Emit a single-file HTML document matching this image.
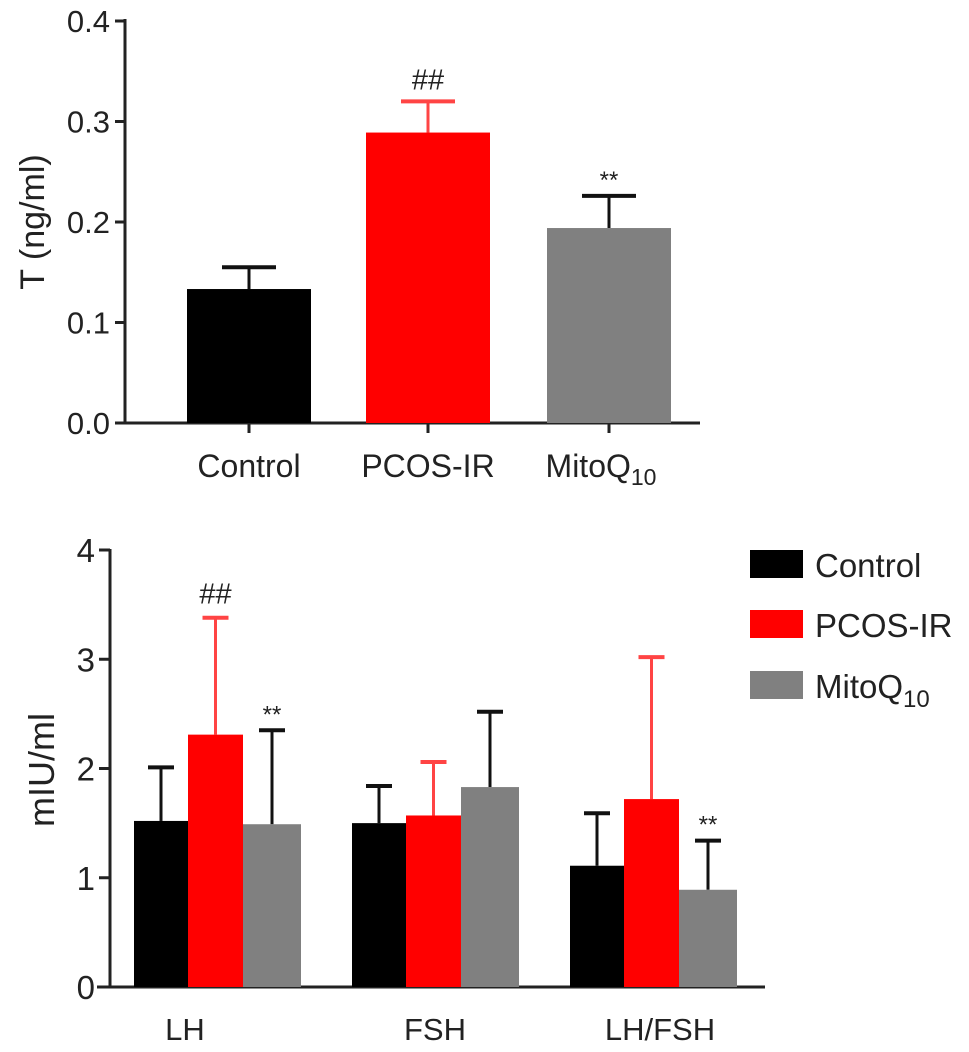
<!DOCTYPE html>
<html><head><meta charset="utf-8"><style>
html,body{margin:0;padding:0;background:#fff;}
svg{display:block;font-family:"Liberation Sans",Arial,sans-serif;}
</style></head><body>
<svg id="fig" width="969" height="1052" viewBox="0 0 969 1052"></svg>
<script>
const topCategories = ["Control","PCOS-IR","MitoQ10"];
const topValues = [0.1333, 0.289, 0.194];
const topErrors = [0.155, 0.320, 0.226];
const topMarks = ["", "##", "**"];
const topTicks = [0.0, 0.1, 0.2, 0.3, 0.4];
const topTickLabels = ["0.0","0.1","0.2","0.3","0.4"];

const botGroups = ["LH","FSH","LH/FSH"];
const botSeries = ["Control","PCOS-IR","MitoQ10"];
const botControl = [1.52, 1.50, 1.11];
const botPcos = [2.31, 1.57, 1.72];
const botMito = [1.49, 1.83, 0.89];
const botControlErr = [2.01, 1.84, 1.59];
const botPcosErr = [3.38, 2.06, 3.02];
const botMitoErr = [2.35, 2.52, 1.34];
const botMarksPcos = ["##", "", ""];
const botMarksMito = ["**", "", "**"];
const botTicks = [0,1,2,3,4];

const svg = document.getElementById('fig');
const NS = 'http://www.w3.org/2000/svg';
function mk(tag, attrs, parent){const e=document.createElementNS(NS,tag);for(const k in attrs)e.setAttribute(k,attrs[k]);(parent||svg).appendChild(e);return e;}
const colors = ["#000000","#ff0000","#808080"];
const errColors = ["#111","#ff4444","#111"];

// ---------- Top chart ----------
const tY = v => 423 - v/0.4*402;
const tAxis = mk('g',{});


mk('line',{x1:125,y1:19,x2:125,y2:424,stroke:'#222','stroke-width':3},tAxis);
topTicks.forEach((t,i)=>{
  mk('line',{x1:115,y1:tY(t),x2:125,y2:tY(t),stroke:'#222','stroke-width':3},tAxis);
  const tx=mk('text',{x:110,y:tY(t)+11,'text-anchor':'end','font-size':31,fill:'#222'},tAxis);
  tx.textContent=topTickLabels[i];
});
const tx0=mk('line',{x1:118,y1:423,x2:700,y2:423,stroke:'#222','stroke-width':3});


const tTitle=mk('text',{x:0,y:0,transform:'translate(44,222) rotate(-90)','text-anchor':'middle','font-size':34,fill:'#222'});


tTitle.textContent='T (ng/ml)';
const tLefts=[187,366,547], tW=124;
topCategories.forEach((c,i)=>{
  const cx=tLefts[i]+tW/2;
  const eb=mk('line',{x1:cx,y1:tY(topErrors[i]),x2:cx,y2:tY(topValues[i]),stroke:errColors[i],'stroke-width':3});
  
  
  mk('line',{x1:cx-27,y1:tY(topErrors[i]),x2:cx+27,y2:tY(topErrors[i]),stroke:errColors[i],'stroke-width':4});
  const r=mk('rect',{x:tLefts[i],y:tY(topValues[i]),width:tW,height:423-tY(topValues[i]),fill:colors[i]});
  
  
  mk('line',{x1:cx,y1:423,x2:cx,y2:433,stroke:'#222','stroke-width':3});
  if(topMarks[i]){const m=mk('text',{x:cx,y:tY(topErrors[i])-(topMarks[i]=='**'?8:12),'text-anchor':'middle','font-size':topMarks[i]=='**'?24:29,fill:'#222'});
    
    
    m.textContent=topMarks[i];}
  const l=mk('text',{x:cx-(i==2?8:0),y:477,'text-anchor':'middle','font-size':32,fill:'#222'});
  
  
  if(c==='MitoQ10'){l.textContent='MitoQ';const s=mk('tspan',{'font-size':23,dy:8},l);s.textContent='10';}
  else l.textContent=c;
});

// ---------- Bottom chart ----------
const bY = v => 987 - v/4*437;
const bAxis=mk('g',{});


mk('line',{x1:110,y1:549,x2:110,y2:988,stroke:'#222','stroke-width':3},bAxis);
botTicks.forEach(t=>{
  mk('line',{x1:99,y1:bY(t),x2:110,y2:bY(t),stroke:'#222','stroke-width':3},bAxis);
  const tx=mk('text',{x:95,y:bY(t)+12,'text-anchor':'end','font-size':33,fill:'#222'},bAxis);
  tx.textContent=String(t);
});
const bx0=mk('line',{x1:97,y1:987,x2:765,y2:987,stroke:'#222','stroke-width':3});


const bTitle=mk('text',{x:0,y:0,transform:'translate(54,770) rotate(-90)','text-anchor':'middle','font-size':36,fill:'#222'});


bTitle.textContent='mIU/ml';
const groupStarts=[134,352,570], bw=[54,55,58], bOff=[0,54,109];
const labelX=[185,435,660];
const vals=[botControl,botPcos,botMito], errs=[botControlErr,botPcosErr,botMitoErr];
botGroups.forEach((g,gi)=>{
  for(let s=0;s<3;s++){
    const x=groupStarts[gi]+bOff[s], w=bw[s], cx=x+w/2;
    mk('line',{x1:cx,y1:bY(errs[s][gi]),x2:cx,y2:bY(vals[s][gi]),stroke:errColors[s],'stroke-width':3});
    mk('line',{x1:cx-13,y1:bY(errs[s][gi]),x2:cx+13,y2:bY(errs[s][gi]),stroke:errColors[s],'stroke-width':4});
    const r=mk('rect',{x:x,y:bY(vals[s][gi]),width:w,height:987-bY(vals[s][gi]),fill:colors[s]});
    
    
    const mark = s===1?botMarksPcos[gi]:(s===2?botMarksMito[gi]:'');
    if(mark){const m=mk('text',{x:cx,y:bY(errs[s][gi])-(mark=='**'?8:14),'text-anchor':'middle','font-size':mark=='**'?24:29,fill:'#222'});
      
      
      m.textContent=mark;}
  }
  const l=mk('text',{x:labelX[gi],y:1040,'text-anchor':'middle','font-size':31,fill:'#222'});
  
  
  l.textContent=g;
});
// legend
const leg=mk('g',{});


const legY=[550,610,671];
botSeries.forEach((s,i)=>{
  mk('rect',{x:750,y:legY[i],width:53,height:28,fill:colors[i]},leg);
  const t=mk('text',{x:815,y:legY[i]+27,'font-size':33,fill:'#222'},leg);
  
  
  if(s==='MitoQ10'){t.textContent='MitoQ';const sp=mk('tspan',{'font-size':24,dy:9},t);sp.textContent='10';}
  else t.textContent=s;
});
</script>
</body></html>
